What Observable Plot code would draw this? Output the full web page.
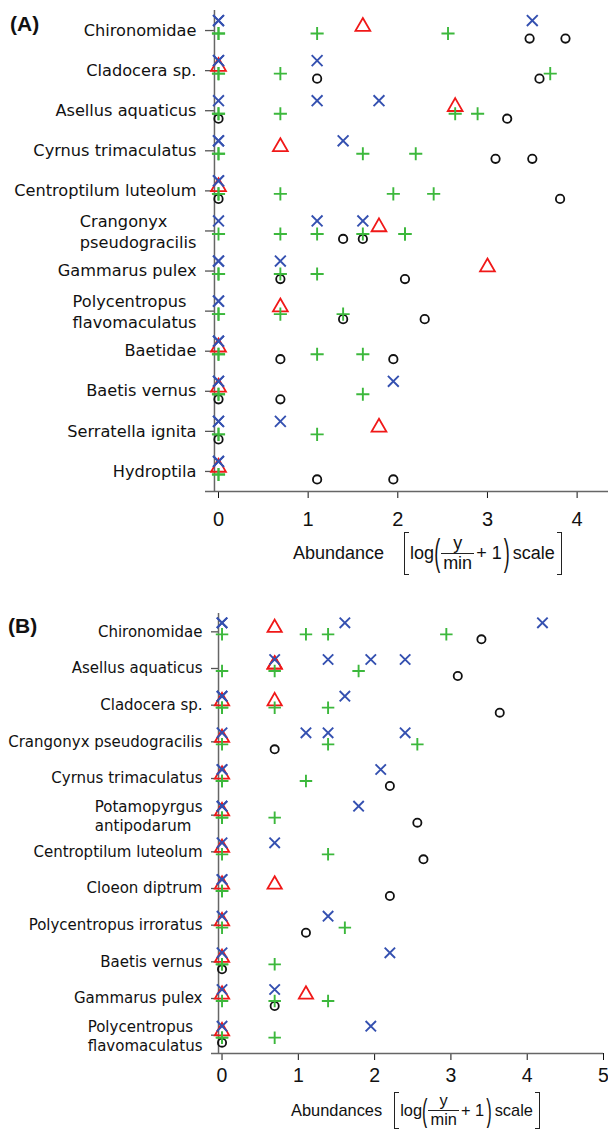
<!DOCTYPE html>
<html>
<head>
<meta charset="utf-8">
<script src="https://cdn.jsdelivr.net/npm/d3@7"></script>
<script src="https://cdn.jsdelivr.net/npm/@observablehq/plot@0.6"></script>
<style>
  body { margin: 0; background: #fff; }
  #wrap { position: relative; width: 608px; height: 1130px; background: #fff; overflow: hidden; }
  .panel { position: absolute; left: 0; }
  .letter { position: absolute; font-family: "Liberation Sans", Arial, sans-serif; font-weight: bold; color: #111; line-height: 1; }
  .formula { position: absolute; display: flex; align-items: center; font-family: "Liberation Sans", Arial, sans-serif; color: #111; white-space: nowrap; }
  .formula .br { display: inline-block; border-top: 1.4px solid #222; border-bottom: 1.4px solid #222; width: 5px; box-sizing: border-box; }
  .formula .br.l { border-left: 1.4px solid #222; }
  .formula .br.r { border-right: 1.4px solid #222; }
  .formula .paren { display: inline-block; transform: scaleY(2.05); font-weight: 300; }
  .formula .frac { display: inline-flex; flex-direction: column; align-items: center; line-height: 1.05; }
  .formula .frac .den { border-top: 1.2px solid #222; padding: 0 2px; }
</style>
</head>
<body>
<div id="wrap">
  <div id="panelA" class="panel" style="top:0px"></div>
  <div id="panelB" class="panel" style="top:585px"></div>
</div>
<script>
// ---------- DATA ----------
const speciesA = ["Chironomidae", "Cladocera sp.", "Asellus aquaticus", "Cyrnus trimaculatus",
  "Centroptilum luteolum", "Crangonyx\npseudogracilis", "Gammarus pulex",
  "Polycentropus\nflavomaculatus", "Baetidae", "Baetis vernus", "Serratella ignita", "Hydroptila"];

// values per species (same order as speciesA), log(y/min + 1)
const crossA = [[0, 0, 3.50], [0, 0, 1.10], [0, 1.10, 1.79], [0, 0, 1.39], [0, 0], [0, 1.10, 1.61],
  [0, 0, 0.69], [0, 0], [0, 0], [0, 0, 1.95], [0, 0, 0.69], [0, 0]];
const triangleA = [[1.61], [0], [2.64], [0.69], [0], [1.79], [3.00], [0.69], [0], [0], [1.79], [0]];
const plusA = [[0, 0, 1.10, 2.56], [0, 0, 0.69, 3.70], [0, 0, 0.69, 2.64, 2.89], [0, 0, 1.61, 2.20],
  [0, 0, 0.69, 1.95, 2.40], [0, 0.69, 1.10, 1.61, 2.08, 2.08], [0, 0, 0.69, 1.10], [0, 0, 0.69, 1.39],
  [0, 0, 1.10, 1.61], [0, 0, 1.61], [0, 0, 1.10], [0, 0]];
const circleA = [[3.47, 3.87], [1.10, 3.58], [0, 3.22], [3.09, 3.50], [0, 3.81], [1.39, 1.61],
  [0.69, 2.08], [1.39, 2.30], [0.69, 1.95], [0, 0.69], [0], [1.10, 1.95]];
const ticksA = [0, 1, 2, 3, 4];

const speciesB = ["Chironomidae", "Asellus aquaticus", "Cladocera sp.", "Crangonyx pseudogracilis",
  "Cyrnus trimaculatus", "Potamopyrgus\nantipodarum", "Centroptilum luteolum", "Cloeon diptrum",
  "Polycentropus irroratus", "Baetis vernus", "Gammarus pulex", "Polycentropus\nflavomaculatus"];

const crossB = [[0, 0, 1.61, 4.20], [0.69, 1.39, 1.95, 2.40], [0, 0, 1.61], [0, 1.10, 1.39, 2.40],
  [0, 0, 2.08], [0, 0, 1.79], [0, 0.69], [0, 0], [0, 1.39], [0, 2.20], [0, 0.69], [0, 1.95]];
const triangleB = [[0.69], [0.69, 0.69], [0, 0.69], [0], [0], [0], [0], [0, 0.69], [0], [0], [0, 1.10], [0]];
const plusB = [[0, 1.10, 1.39, 2.94], [0, 0.69, 1.79], [0, 0, 0.69, 1.39], [0, 1.39, 2.56], [0, 0, 1.10],
  [0, 0, 0.69], [0, 1.39], [0, 0], [0, 1.61], [0, 0, 0.69], [0, 0.69, 1.39], [0, 0, 0.69]];
const circleB = [[3.40], [3.09], [3.64], [0.69], [2.20], [2.56], [2.64], [2.20], [1.10], [0], [0.69], [0]];
const ticksB = [0, 1, 2, 3, 4, 5];

// ---------- STYLE ----------
const COLORS = { cross: "#3450b0", triangle: "#f01818", plus: "#3cb83c", circle: "#111111" };

const ctx = document.createElement("canvas").getContext("2d");
function textWidth(s, font) { ctx.font = font; return ctx.measureText(s).width; }

function flat(vals) {
  return vals.flatMap((arr, i) => arr.map(v => ({ i, v })));
}

function makePanel(cfg) {
  const n = cfg.species.length;
  const idx = d3.range(n);
  const labelFont = `${cfg.labelSize}px "DejaVu Sans"`;
  const single = idx.filter(i => !cfg.species[i].includes("\n"));
  const multi = idx.filter(i => cfg.species[i].includes("\n"));

  const marks = [
    Plot.ruleX([cfg.vline], { y1: -0.5, y2: n - 0.5, stroke: "#666", strokeWidth: 1.5 }),
    Plot.ruleY([n - 0.5], { x1: cfg.xDomain[0], x2: cfg.xDomain[1], stroke: "#666", strokeWidth: 1.5 }),
    Plot.ruleY(idx, { y: d => d, x1: cfg.xDomain[0], x2: cfg.vline, stroke: "#555", strokeWidth: 1.3 }),
    Plot.dot(flat(cfg.triangle), { x: "v", y: "i", symbol: "triangle", r: cfg.r.triangle, stroke: COLORS.triangle, strokeWidth: 1.8, fill: "none", dy: cfg.dy.triangle }),
    Plot.dot(flat(cfg.circle), { x: "v", y: "i", symbol: "circle", r: cfg.r.circle, stroke: COLORS.circle, strokeWidth: 1.8, fill: "none", dy: cfg.dy.circle }),
    Plot.dot(flat(cfg.plus), { x: "v", y: "i", symbol: "plus", r: cfg.r.plus, stroke: COLORS.plus, strokeWidth: 1.9, fill: "none", dy: cfg.dy.plus }),
    Plot.dot(flat(cfg.cross), { x: "v", y: "i", symbol: "times", r: cfg.r.cross, stroke: COLORS.cross, strokeWidth: 1.9, fill: "none", dy: cfg.dy.cross }),
    Plot.text(single, { y: d => d, text: d => cfg.species[d], frameAnchor: "left", textAnchor: "end", dx: cfg.labelDx,
      fontSize: cfg.labelSize, fontFamily: "DejaVu Sans", fill: "#111" })
  ];
  for (const i of multi) {
    const lines = cfg.species[i].split("\n");
    const w = d3.max(lines, l => textWidth(l, labelFont));
    marks.push(Plot.text([i], { y: d => d, text: () => cfg.species[i], frameAnchor: "left", textAnchor: "start",
      dx: cfg.labelDx - w, lineAnchor: "middle", lineHeight: cfg.lineHeight,
      fontSize: cfg.labelSize, fontFamily: "DejaVu Sans", fill: "#111" }));
  }

  return Plot.plot({
    width: 608,
    height: cfg.height,
    marginTop: cfg.marginTop,
    marginBottom: cfg.marginBottom,
    marginLeft: cfg.marginLeft,
    marginRight: cfg.marginRight,
    style: { fontFamily: "Liberation Sans, Arial, sans-serif", fontSize: cfg.tickSize + "px", color: "#111", background: "transparent" },
    x: { domain: cfg.xDomain, ticks: cfg.ticks, tickSize: 7, tickPadding: cfg.tickPadding, tickFormat: d => String(d), label: null },
    y: { domain: [n - 0.5, -0.5], axis: null },
    marks
  });
}

const A = makePanel({
  species: speciesA, cross: crossA, triangle: triangleA, plus: plusA, circle: circleA, ticks: ticksA,
  height: 585, marginTop: 10, marginBottom: 94, marginLeft: 205, marginRight: 0,
  xDomain: [-0.145, 4.35], vline: -0.045, tickPadding: 13, tickSize: 20,
  labelSize: 16.2, labelDx: -9, lineHeight: 1.25,
  r: { cross: 5, triangle: 5.5, plus: 4.3, circle: 4.2 },
  dy: { cross: -10, triangle: -4, plus: 3, circle: 8 }
});
document.getElementById("panelA").appendChild(A);

const B = makePanel({
  species: speciesB, cross: crossB, triangle: triangleB, plus: plusB, circle: circleB, ticks: ticksB,
  height: 545, marginTop: 28, marginBottom: 77, marginLeft: 211, marginRight: 5,
  xDomain: [-0.138, 5], vline: -0.046, tickPadding: 8, tickSize: 19.5,
  labelSize: 15, labelDx: -9, lineHeight: 1.27,
  r: { cross: 4.8, triangle: 5.3, plus: 4.1, circle: 4.1 },
  dy: { cross: -9, triangle: -4, plus: 2.5, circle: 7.5 }
});
document.getElementById("panelB").appendChild(B);

// ---------- LETTERS & AXIS TITLES ----------
const wrap = document.getElementById("wrap");
function letter(txt, left, top, size) {
  const d = document.createElement("div");
  d.className = "letter";
  d.textContent = txt;
  d.style.left = left + "px"; d.style.top = top + "px"; d.style.fontSize = size + "px";
  wrap.appendChild(d);
}
letter("(A)", 10, 13, 21);
letter("(B)", 8, 615, 21);

function formula(word, fs, left, centerY, gap, brH) {
  const d = document.createElement("div");
  d.className = "formula";
  d.style.fontSize = fs + "px";
  d.style.left = left + "px";
  d.style.top = (centerY - brH / 2) + "px";
  d.style.height = brH + "px";
  d.innerHTML =
    `<span>${word}</span>` +
    `<span class="br l" style="margin-left:${gap}px;height:${brH}px"></span>` +
    `<span style="margin-left:1px">log</span>` +
    `<span class="paren">(</span>` +
    `<span class="frac" style="margin:0 1px"><span>y</span><span class="den">min</span></span>` +
    `<span style="margin-left:1px">+ 1</span>` +
    `<span class="paren" style="margin-left:2px">)</span>` +
    `<span style="margin-left:3px">scale</span>` +
    `<span class="br r" style="margin-left:2px;height:${brH}px"></span>`;
  wrap.appendChild(d);
}
formula("Abundance", 18, 293, 553, 20, 43);
formula("Abundances", 16.4, 291, 1110, 12, 37);
</script>
</body>
</html>
